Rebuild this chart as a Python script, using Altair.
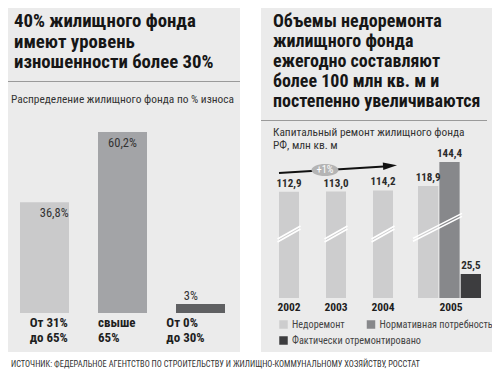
import altair as alt
import pandas as pd

# ---------------- data ----------------
left_categories = ["От 31%\nдо 65%", "свыше\n65%", "От 0%\nдо 30%"]
left_values = [36.8, 60.2, 3.0]
left_colors = ["#cacacb", "#a3a4a7", "#5f6062"]

years = ["2002", "2003", "2004", "2005"]
underrepair = [112.9, 113.0, 114.2, 118.9]
norm_2005 = 144.4
done_2005 = 25.5
series = ["Недоремонт", "Нормативная потребность", "Фактически отремонтировано"]
series_colors = ["#cdcdce", "#87888b", "#3d3d3f"]

title_left = ["40% жилищного фонда", "имеют уровень", "изношенности более 30%"]
subtitle_left = "Распределение жилищного фонда по % износа"
title_right = ["Объемы недоремонта", "жилищного фонда", "ежегодно составляют",
               "более 100 млн кв. м и", "постепенно увеличиваются"]
subtitle_right = ["Капитальный ремонт жилищного фонда", "РФ, млн кв. м"]
growth_label = "+1%"
source = ("ИСТОЧНИК: ФЕДЕРАЛЬНОЕ АГЕНТСТВО ПО СТРОИТЕЛЬСТВУ И "
          "ЖИЛИЩНО-КОММУНАЛЬНОМУ ХОЗЯЙСТВУ, РОССТАТ")


def ru(v, pct=False):
    s = f"{v:g}" if pct else f"{v:.1f}"
    s = s.replace(".", ",")
    return s + ("%" if pct else "")


ldf = pd.DataFrame({"cat": left_categories, "value": left_values,
                    "label": [ru(v, True) for v in left_values]})

rows = [{"year": y, "series": series[0], "value": v, "label": ru(v)}
        for y, v in zip(years, underrepair)]
rows.append({"year": "2005", "series": series[1], "value": norm_2005, "label": ru(norm_2005)})
rows.append({"year": "2005", "series": series[2], "value": done_2005, "label": ru(done_2005)})
rdf = pd.DataFrame(rows)
ydf = pd.DataFrame({"year": years})
sdf = pd.DataFrame({"series": series})
one = pd.DataFrame({"k": [0]})

BOLD = "Roboto Condensed, Open Sans Condensed, DejaVu Sans Condensed, sans-serif"
REG = "Roboto Condensed, Open Sans Condensed, DejaVu Sans Condensed, sans-serif"
PANEL = "#ebebeb"

# ---------------- scales ----------------
lx = alt.Scale(domain=left_categories, range=[12, 217], paddingInner=0.372, paddingOuter=0)
ly = alt.Scale(domain=[0, 60.2], range=[305, 124], nice=False, zero=True)
lfill = alt.Scale(domain=left_categories, range=left_colors)
rx = alt.Scale(domain=years, range=[257.5, 445.5], paddingInner=0, paddingOuter=0)
ry = alt.Scale(domain=[0, 144.4], range=[290, 154], nice=False, zero=True)
roff = alt.Scale(domain=series, range=[11.5, 74.5], paddingInner=0.05, paddingOuter=0)
rcol = alt.Scale(domain=series, range=series_colors)

# ---------------- decorations ----------------
bg_left = alt.Chart(one).mark_rect(color=PANEL).encode(
    x=alt.value(0), x2=alt.value(232), y=alt.value(0), y2=alt.value(344))
bg_right = alt.Chart(one).mark_rect(color=PANEL).encode(
    x=alt.value(253), x2=alt.value(484), y=alt.value(0), y2=alt.value(344))
sep_left = alt.Chart(one).mark_rule(color="#9a9a9a", strokeWidth=1).encode(
    x=alt.value(0), x2=alt.value(232), y=alt.value(73.5))
sep_right = alt.Chart(one).mark_rule(color="#9a9a9a", strokeWidth=1).encode(
    x=alt.value(253), x2=alt.value(479), y=alt.value(112.5))

t_left = alt.Chart(one).mark_text(align="left", baseline="alphabetic", font=BOLD,
                                  fontWeight="bold", fontSize=18.8, lineHeight=20.5,
                                  color="#161616").encode(
    x=alt.value(6), y=alt.value(19), text=alt.value(title_left))
t_right = alt.Chart(one).mark_text(align="left", baseline="alphabetic", font=BOLD,
                                   fontWeight="bold", fontSize=18, lineHeight=20,
                                   color="#161616").encode(
    x=alt.value(265), y=alt.value(19), text=alt.value(title_right))
st_left = alt.Chart(one).mark_text(align="left", baseline="alphabetic", font=REG,
                                   fontSize=11.4, color="#333333").encode(
    x=alt.value(3), y=alt.value(95), text=alt.value(subtitle_left))
st_right = alt.Chart(one).mark_text(align="left", baseline="alphabetic", font=REG,
                                    fontSize=11.4, lineHeight=13.5, color="#333333").encode(
    x=alt.value(265), y=alt.value(127.5), text=alt.value(subtitle_right))
src = alt.Chart(one).mark_text(align="left", baseline="middle", font=REG,
                               fontSize=8.4, color="#333333").encode(
    x=alt.value(3), y=alt.value(356), text=alt.value(source))

# ---------------- left chart ----------------
l_bars = alt.Chart(ldf).mark_bar().encode(
    x=alt.X("cat:N", scale=lx, axis=None),
    y=alt.Y("value:Q", scale=ly, axis=None),
    fill=alt.Fill("cat:N", scale=lfill, legend=None))
l_in = alt.Chart(ldf).transform_filter("datum.value > 10").mark_text(
    baseline="middle", dy=11, font=REG, fontSize=12.5, color="#333333").encode(
    x=alt.X("cat:N", scale=lx, axis=None),
    y=alt.Y("value:Q", scale=ly, axis=None), text="label:N")
l_out = alt.Chart(ldf).transform_filter("datum.value <= 10").mark_text(
    baseline="middle", dy=-8, font=REG, fontSize=12.5, color="#333333").encode(
    x=alt.X("cat:N", scale=lx, axis=None),
    y=alt.Y("value:Q", scale=ly, axis=None), text="label:N")
l_cat = alt.Chart(ldf).mark_text(align="left", baseline="alphabetic", lineBreak="\n",
                                 lineHeight=15, font=BOLD, fontWeight="bold", dx=-24.5,
                                 fontSize=13, color="#1e1e1e").encode(
    x=alt.X("cat:N", scale=lx, axis=None),
    y=alt.value(319), text="cat:N")

# ---------------- right chart ----------------
r_bars_a = alt.Chart(rdf).transform_filter("datum.year != '2005'").mark_bar(width=20).encode(
    x=alt.X("year:N", scale=rx, axis=None),
    y=alt.Y("value:Q", scale=ry, axis=None),
    color=alt.Color("series:N", scale=rcol, legend=None))
r_bars_b = alt.Chart(rdf).transform_filter("datum.year == '2005'").mark_bar().encode(
    x=alt.X("year:N", scale=rx, axis=None),
    xOffset=alt.XOffset("series:N", scale=roff),
    y=alt.Y("value:Q", scale=ry, axis=None),
    color=alt.Color("series:N", scale=rcol, legend=None))
r_lab_a = alt.Chart(rdf).transform_filter("datum.year != '2005'").mark_text(
    baseline="middle", dy=-8, font=BOLD, fontWeight="bold", fontSize=11,
    color="#2a2a2a").encode(
    x=alt.X("year:N", scale=rx, axis=None),
    y=alt.Y("value:Q", scale=ry, axis=None), text="label:N")
r_lab_b = alt.Chart(rdf).transform_filter("datum.year == '2005'").mark_text(
    baseline="middle", dy=-8, font=BOLD, fontWeight="bold", fontSize=11,
    color="#2a2a2a").encode(
    x=alt.X("year:N", scale=rx, axis=None),
    xOffset=alt.XOffset("series:N", scale=roff),
    y=alt.Y("value:Q", scale=ry, axis=None), text="label:N")
yr_a = alt.Chart(ydf).transform_filter("datum.year != '2005'").mark_text(
    baseline="alphabetic", font=BOLD, fontWeight="bold", fontSize=11.5,
    color="#1e1e1e").encode(
    x=alt.X("year:N", scale=rx, axis=None), y=alt.value(303), text="year:N")
yr_b = alt.Chart(ydf).transform_filter("datum.year == '2005'").mark_text(
    baseline="alphabetic", dx=21, font=BOLD, fontWeight="bold", fontSize=11.5,
    color="#1e1e1e").encode(
    x=alt.X("year:N", scale=rx, axis=None), y=alt.value(303), text="year:N")

brk_small = "M-1,0.435L1,-0.695M-1,0.695L1,-0.435"
brk_big = "M-1,0.45L1,-0.57M-1,0.57L1,-0.45"
br_a = alt.Chart(ydf).transform_filter("datum.year != '2005'").mark_point(
    shape=brk_small, size=529, filled=False, color="white", strokeWidth=1.6,
    opacity=1).encode(
    x=alt.X("year:N", scale=rx, axis=None), y=alt.YDatum(68, scale=ry, axis=None))
br_b = alt.Chart(ydf).transform_filter("datum.year == '2005'").mark_point(
    shape=brk_big, size=2401, filled=False, color="white", strokeWidth=1.6,
    opacity=1, xOffset=7.5).encode(
    x=alt.X("year:N", scale=rx, axis=None), y=alt.YDatum(75, scale=ry, axis=None))

arrow = alt.Chart(one).mark_rule(color="#111111", strokeWidth=2).encode(
    x=alt.value(271), y=alt.value(165), x2=alt.value(380), y2=alt.value(158.3))
head = alt.Chart(one).mark_point(shape="M-1,-0.55L1,0L-1,0.55Z", filled=True,
                                 color="#111111", size=196, angle=356.5, opacity=1).encode(
    x=alt.value(382), y=alt.value(157.8))
oval = alt.Chart(one).mark_point(shape="M-1,0A1,0.45,0,1,0,1,0A1,0.45,0,1,0,-1,0Z",
                                 filled=True, color="#b4b4b4", size=729, opacity=1).encode(
    x=alt.value(317), y=alt.value(162))
oval_t = alt.Chart(one).mark_text(baseline="middle", font=REG, fontSize=10.5,
                                  color="white").encode(
    x=alt.value(317), y=alt.value(162), text=alt.value(growth_label))

# ---------------- legend (built from the series list) ----------------
legend_layers = []
legend_slots = [(275.5, 316.5), (363.0, 316.5), (275.5, 332.5)]
for name, (lxp, lyp) in zip(series, legend_slots):
    sub = alt.Chart(sdf).transform_filter(alt.datum.series == name)
    legend_layers.append(sub.mark_square(size=72, opacity=1).encode(
        x=alt.value(lxp), y=alt.value(lyp),
        color=alt.Color("series:N", scale=rcol, legend=None)))
    legend_layers.append(sub.mark_text(align="left", baseline="middle", font=REG,
                                       fontSize=10.2, color="#444444").encode(
        x=alt.value(lxp + 8.5), y=alt.value(lyp), text="series:N"))

chart = alt.layer(
    bg_left, bg_right, sep_left, sep_right, t_left, t_right, st_left, st_right, src,
    l_bars, l_in, l_out, l_cat,
    r_bars_a, r_bars_b, br_a, br_b, r_lab_a, r_lab_b, yr_a, yr_b,
    arrow, head, oval, oval_t, *legend_layers,
).resolve_scale(x="independent", y="independent").properties(
    width=484, height=362, autosize=alt.AutoSizeParams(type="none"), padding=0
).configure_view(strokeWidth=0)

chart.save("out.html", embed_options={"renderer": "svg", "actions": False})
